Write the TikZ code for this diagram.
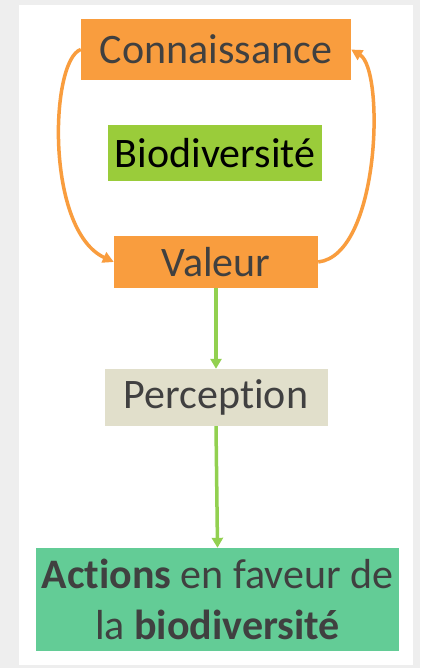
\documentclass[tikz,border=0pt]{standalone}
\usepackage{fontspec}
\setmainfont[Ligatures={NoCommon}]{Carlito}
\usetikzlibrary{arrows.meta}
\definecolor{bggray}{HTML}{EEEEEE}
\definecolor{orangebox}{HTML}{F99D3E}
\definecolor{greenbox}{HTML}{9ACC3A}
\definecolor{percbox}{HTML}{E1DFCB}
\definecolor{actbox}{HTML}{63CC96}
\definecolor{arrgreen}{HTML}{92D050}
\definecolor{txtgray}{HTML}{404040}
\tikzset{
  box/.style={inner sep=0pt, align=center, font=\fontsize{42}{51}\selectfont, text=txtgray},
  orangearrow/.style={draw=orangebox, line width=3.5pt, -{Triangle[length=11pt,width=11pt]}},
  greenarrow/.style={draw=arrgreen, line width=3.5pt, -{Triangle[length=10pt,width=11pt]}}
}
\begin{document}
\begin{tikzpicture}[x=1pt,y=-1pt]
\path[fill=bggray] (0,0) rectangle (420,668);
\path[fill=white] (19,5) rectangle (413,665);
\useasboundingbox (0,0) rectangle (420,668);
\node[box, fill=orangebox, minimum width=270pt, minimum height=61pt] (con) at (216,49.5) {Connaissance};
\node[box, fill=greenbox, text=black, minimum width=214pt, minimum height=56pt] (bio) at (215,153) {Biodiversité};
\node[box, fill=orangebox, minimum width=204pt, minimum height=52pt] (val) at (216,262) {Valeur};
\node[box, fill=percbox, minimum width=223pt, minimum height=57pt] (per) at (216,397.5) {Perception};
\node[box, fill=actbox, minimum width=363pt, minimum height=103pt] (act) at (217.5,599.5) {\textbf{Actions} en faveur de\\la \textbf{biodiversité}};
\draw[orangearrow] (con.west) .. controls (50,60) and (45,230) .. (val.west);
\draw[orangearrow] (val.east) .. controls (380,255) and (385,70) .. (con.east);
\draw[greenarrow] (val.south) -- (per.north);
\draw[greenarrow] (per.south) -- (act.north);
\end{tikzpicture}
\end{document}
